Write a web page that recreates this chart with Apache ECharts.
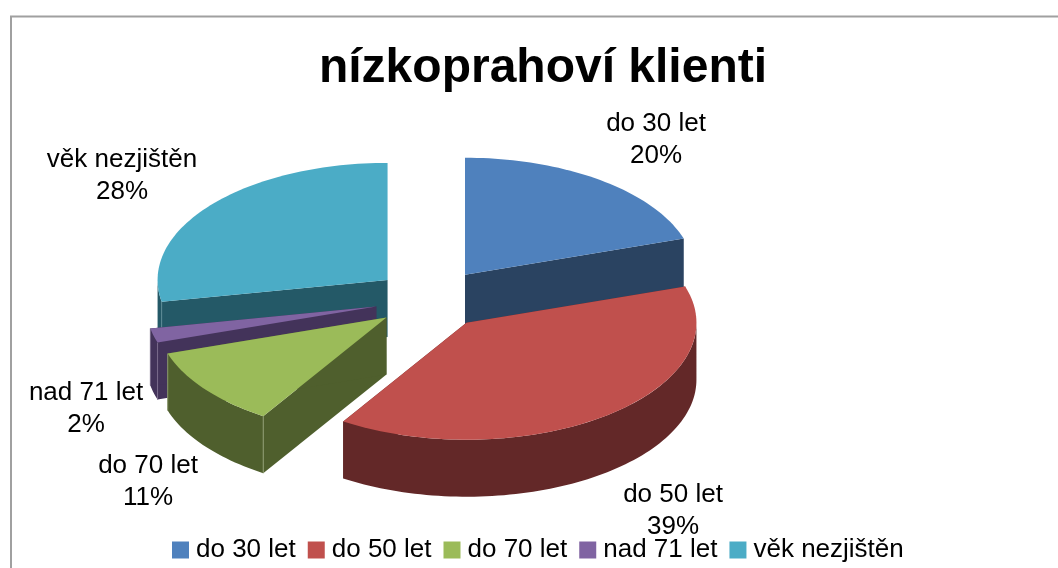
<!DOCTYPE html>
<html>
<head>
<meta charset="utf-8">
<style>
  html, body { margin: 0; padding: 0; background: #fff; }
  #main { width: 1058px; height: 568px; }
</style>
<script src="https://cdn.jsdelivr.net/npm/echarts@6/dist/echarts.min.js"></script>
</head>
<body>
<div id="main"></div>
<script>
var categories = ['do 30 let', 'do 50 let', 'do 70 let', 'nad 71 let', 'věk nezjištěn'];
var values = [20, 39, 11, 2, 28];
var topColors = ['#4F81BD', '#C0504D', '#9BBB59', '#8064A2', '#4BACC6'];
var sideColors = ['#2A4361', '#632828', '#4F5F2D', '#43335A', '#245967'];
var seamColors = ['#5d7690', '#8f6060', '#8d9a70', '#7a6c8c', '#5b8a96'];
// back slices first, the front ones cover their walls
var paintOrder = [1, 4, 3, 2, 0];
// label centres, first line
var labelX = [656, 673, 148, 86, 122];
var labelY = [124, 495, 466, 393, 160];

var FONT = '"Liberation Sans", Arial, sans-serif';
var CX = 431.5, CY = 299;   // pie centre before the slices are pulled out
var RX = 230, RY = 117;     // top ellipse
var DEPTH = 57;
var EXPLODE_X = 57, EXPLODE_Y = 30;
var total = values.reduce(function (a, b) { return a + b; }, 0);

function rad(deg) { return deg * Math.PI / 180; }

function sliceAngles(idx) {
  var before = 0;
  for (var i = 0; i < idx; i++) before += values[i];
  return [before / total * 360, (before + values[idx]) / total * 360];
}

function arcPoints(ax, ay, from, to, dy) {
  var pts = [];
  var steps = Math.max(2, Math.ceil((to - from) / 1.5));
  for (var i = 0; i <= steps; i++) {
    var a = rad(from + (to - from) * i / steps);
    pts.push([ax + RX * Math.sin(a), ay - RY * Math.cos(a) + dy]);
  }
  return pts;
}

function renderSlice(params, api) {
  var idx = params.seriesIndex;
  var ang = sliceAngles(idx);
  var mid = rad((ang[0] + ang[1]) / 2);
  var ax = CX + EXPLODE_X * Math.sin(mid);
  var ay = CY - EXPLODE_Y * Math.cos(mid);
  var children = [];

  // radial walls
  [ang[0], ang[1]].forEach(function (deg) {
    var a = rad(deg);
    var ex = ax + RX * Math.sin(a), ey = ay - RY * Math.cos(a);
    children.push({
      type: 'polygon',
      shape: { points: [[ax, ay], [ex, ey], [ex, ey + DEPTH], [ax, ay + DEPTH]] },
      style: { fill: sideColors[idx] }
    });
  });

  // outer wall, only the front half of the ellipse shows
  var from = Math.max(ang[0], 90), to = Math.min(ang[1], 270);
  if (to > from) {
    var upper = arcPoints(ax, ay, from, to, 0);
    var lower = arcPoints(ax, ay, from, to, DEPTH).reverse();
    children.push({
      type: 'polygon',
      shape: { points: upper.concat(lower) },
      style: { fill: sideColors[idx] }
    });
    // thin light seam where radial and outer wall meet
    [ang[0], ang[1]].forEach(function (deg) {
      if (deg > 90 && deg < 270 && deg !== 212.4 && idx !== 1) {
        var a = rad(deg);
        var ex = ax + RX * Math.sin(a), ey = ay - RY * Math.cos(a);
        children.push({
          type: 'line',
          shape: { x1: ex, y1: ey, x2: ex, y2: ey + DEPTH },
          style: { stroke: seamColors[idx], lineWidth: 1 }
        });
      }
    });
  }

  // top face
  children.push({
    type: 'polygon',
    shape: { points: [[ax, ay]].concat(arcPoints(ax, ay, ang[0], ang[1], 0)) },
    style: { fill: topColors[idx] }
  });

  // data label
  var pct = Math.round(api.value(0) / total * 100) + '%';
  [categories[idx], pct].forEach(function (line, k) {
    children.push({
      type: 'text',
      z2: 10,
      style: {
        text: line, x: labelX[idx], y: labelY[idx] + k * 32,
        align: 'center', verticalAlign: 'middle',
        fill: '#000', font: '26px ' + FONT
      }
    });
  });

  return { type: 'group', children: children };
}

var chart = echarts.init(document.getElementById('main'), null, { renderer: 'canvas' });
chart.setOption({
  animation: false,
  backgroundColor: '#fff',
  color: topColors,
  title: {
    text: 'nízkoprahoví klienti',
    left: 538,
    textAlign: 'center',
    top: 40,
    textStyle: { fontFamily: FONT, fontSize: 48, fontWeight: 'bold', color: '#000' }
  },
  legend: {
    data: categories,
    left: 172,
    top: 537,
    padding: 0,
    icon: 'rect',
    itemWidth: 17,
    itemHeight: 17,
    itemGap: 12,
    selectedMode: false,
    textStyle: { fontFamily: FONT, fontSize: 26, color: '#000', padding: [0, 0, 0, 2] }
  },
  graphic: [{
    type: 'polyline',
    shape: { points: [[11, 568], [11, 16.5], [1058, 16.5]] },
    style: { stroke: '#A0A0A0', lineWidth: 2, fill: null },
    silent: true
  }],
  series: categories.map(function (name, i) {
    return {
      type: 'custom',
      name: name,
      coordinateSystem: 'none',
      z: paintOrder[i] + 2,
      silent: true,
      renderItem: renderSlice,
      data: [[values[i]]]
    };
  })
});
</script>
</body>
</html>
